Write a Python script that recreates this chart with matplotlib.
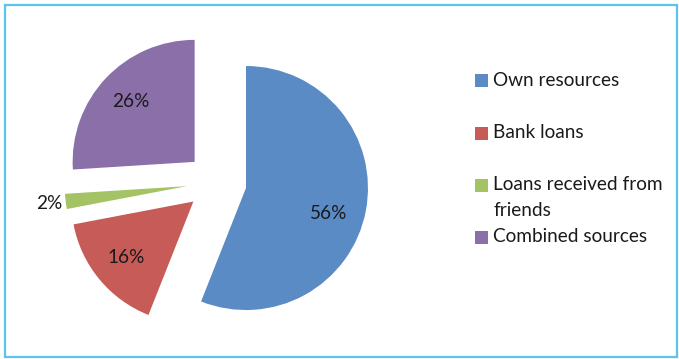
# ----------------------------------------------------------------------------------------------------------------------
#  IMPORT
# ----------------------------------------------------------------------------------------------------------------------

import matplotlib
matplotlib.use('Agg')
import matplotlib.pyplot as plt
from matplotlib.patches import Rectangle
import numpy as np

# ----------------------------------------------------------------------------------------------------------------------
#  DATA
# ----------------------------------------------------------------------------------------------------------------------

sources = ['Own resources', 'Bank loans', 'Loans received from\nfriends', 'Combined sources']
shares  = [56, 16, 2, 26]
colors  = ['#5B8BC5', '#C65B57', '#A3C364', '#8B6FA8']

# ----------------------------------------------------------------------------------------------------------------------
#  plot_financing_sources
# ----------------------------------------------------------------------------------------------------------------------

def plot_financing_sources(save_filename = 'out.png', width = 679, height = 359, dpi = 100):

    plt.rcParams['font.family'] = ['Lato', 'DejaVu Sans']
    font_size = 13.7

    fig = plt.figure(figsize = (width / dpi, height / dpi), dpi = dpi)
    fig.patch.set_facecolor('white')

    # one axis in pixel units so the pie and legend can be placed directly
    axis_0 = fig.add_axes([0, 0, 1, 1])

    radius  = 122
    center  = (216.5, height - 182.4)
    explode = [30] * len(shares)

    wedges, texts, autotexts = axis_0.pie(shares, colors = colors, explode = explode, radius = radius,
                                          center = center, startangle = 90, counterclock = False,
                                          autopct = '%d%%', pctdistance = 0.72,
                                          wedgeprops = dict(linewidth = 0),
                                          textprops = dict(fontsize = font_size, color = '#1a1a1a'))

    # small slices get their label outside the wedge, the large one sits a bit lower
    for wedge, label, share in zip(wedges, autotexts, shares):
        theta_m = np.deg2rad(0.5 * (wedge.theta1 + wedge.theta2))
        cx, cy  = wedge.center
        if share < 5:
            label.set_position((cx + 1.14 * wedge.r * np.cos(theta_m), cy + 1.14 * wedge.r * np.sin(theta_m)))
        elif share > 50:
            x, y = label.get_position()
            label.set_position((x - 4, y - 9))

    axis_0.set_xlim(0, width)
    axis_0.set_ylim(0, height)
    axis_0.set_aspect('equal')
    axis_0.axis('off')

    # legend drawn by hand, one row per source
    row_y = [80, 133, 185, 237]
    for name, color, y in zip(sources, colors, row_y):
        axis_0.add_patch(Rectangle((475, height - y - 6.5), 13, 13, facecolor = color, edgecolor = 'none'))
        if '\n' in name:
            axis_0.text(493, height - y + 9, name, fontsize = font_size, color = '#1a1a1a',
                        va = 'top', ha = 'left', linespacing = 1.62)
        else:
            axis_0.text(493, height - y, name, fontsize = font_size, color = '#1a1a1a',
                        va = 'center', ha = 'left')

    # chart area border
    axis_0.add_patch(Rectangle((5, 2), width - 7, height - 7, facecolor = 'none',
                               edgecolor = '#5BC4EC', linewidth = 1.6))

    plt.savefig(save_filename, dpi = dpi)
    return fig


plot_financing_sources()
